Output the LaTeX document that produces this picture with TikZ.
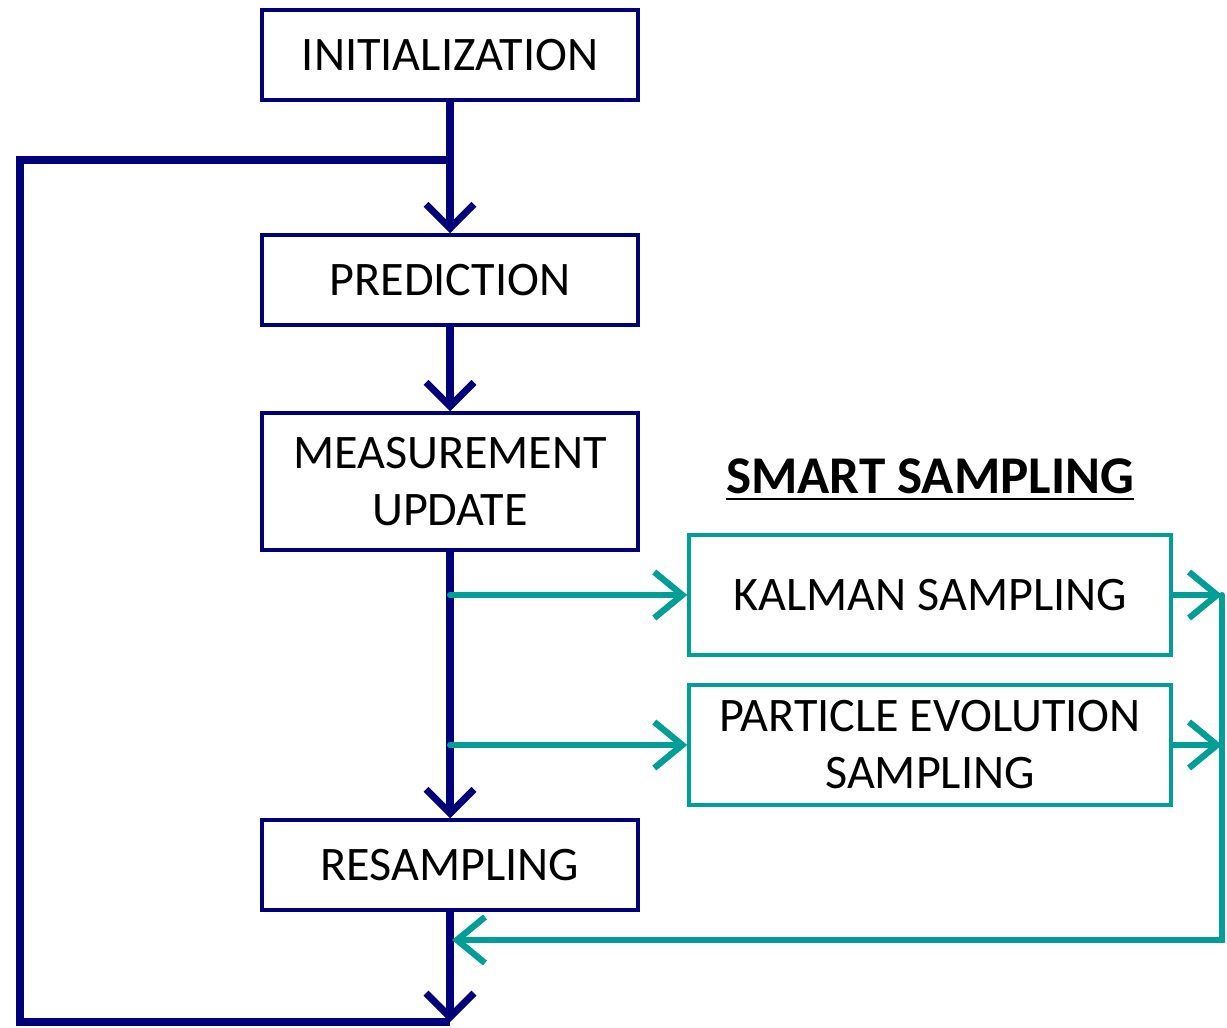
\documentclass[tikz,border=0pt]{standalone}
\usepackage{fontspec}
\setmainfont{Carlito}
\usepackage{tikz}
\usetikzlibrary{arrows.meta,positioning}
\definecolor{navy}{RGB}{0,0,120}
\definecolor{sea}{RGB}{0,158,150}
\tikzstyle{step box}=[draw=navy, line width=1pt, minimum width=3.76cm, minimum height=0.9cm, align=center, font=\fontsize{13.7}{16.2}\selectfont]
\tikzstyle{smart box}=[draw=sea, line width=1pt, minimum width=4.82cm, minimum height=1.2cm, align=center, font=\fontsize{13.7}{16.2}\selectfont]
\tikzstyle{flow}=[navy, line width=2pt, line cap=round, -{Straight Barb[length=0.24cm, width=0.48cm, line width=2pt]}]
\tikzstyle{side}=[sea, line width=1.7pt, line cap=round, -{Straight Barb[length=0.28cm, width=0.46cm, line width=1.8pt]}]

\begin{document}
\begin{tikzpicture}
\useasboundingbox (0,0) rectangle (12.27,-10.28);

\node[step box] (init) at (4.50,-0.55) {INITIALIZATION};
\node[step box] (pred) at (4.50,-2.80) {PREDICTION};
\node[step box, minimum height=1.37cm] (meas) at (4.50,-4.815) {MEASUREMENT\\UPDATE};
\node[step box] (resamp) at (4.50,-8.65) {RESAMPLING};

\node[font=\fontsize{15.1}{18}\selectfont\bfseries] (title) at (9.30,-4.80) {\underline{SMART SAMPLING}};
\node[smart box] (kalman) at (9.30,-5.95) {KALMAN SAMPLING};
\node[smart box] (particle) at (9.30,-7.45) {PARTICLE EVOLUTION\\SAMPLING};

% loop back
\coordinate (top) at (4.50,-1.60);
\coordinate (bottom) at (4.50,-10.22);
\coordinate (topleft) at (0.20,-1.60);
\coordinate (bottomleft) at (0.20,-10.22);
\draw[navy, line width=2pt] (bottom) -- (bottomleft) -- (topleft) -- (top);

% main flow
\draw[flow] (init) -- (pred);
\draw[flow] (pred) -- (meas);
\draw[flow] (meas) -- (resamp);
\draw[flow] (resamp) -- (bottom);

% smart sampling
\coordinate (ktap) at (4.50,-5.95);
\coordinate (ptap) at (4.50,-7.45);
\coordinate (kright) at (12.22,-5.95);
\coordinate (pright) at (12.22,-7.45);
\coordinate (corner) at (12.22,-9.40);
\coordinate (back) at (4.52,-9.40);
\draw[side] (ktap) -- (kalman);
\draw[side] (ptap) -- (particle);
\draw[side] (kalman) -- (kright);
\draw[side] (particle) -- (pright);
\draw[side] (kright) -- (corner) -- (back);

\end{tikzpicture}
\end{document}
